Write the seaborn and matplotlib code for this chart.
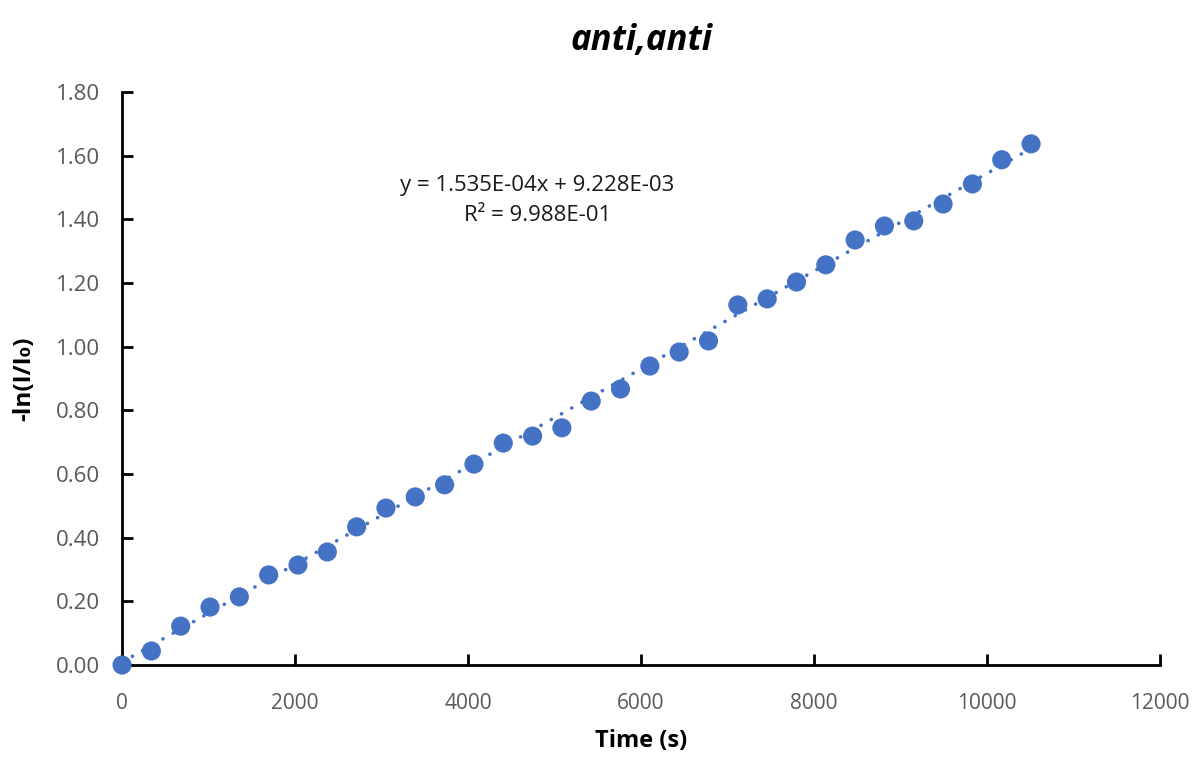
import numpy as np
import pandas as pd
import matplotlib
matplotlib.use("Agg")
import matplotlib.pyplot as plt
import seaborn as sns

# Measured decay data
time_s = [0, 339, 678, 1017, 1356, 1695, 2034, 2373, 2712, 3051, 3390,
          3729, 4068, 4407, 4746, 5085, 5424, 5763, 6102, 6441, 6780,
          7119, 7458, 7797, 8136, 8475, 8814, 9153, 9492, 9831, 10170, 10509]
neg_ln = [0.000, 0.044, 0.122, 0.182, 0.214, 0.283, 0.314, 0.355, 0.434,
          0.493, 0.528, 0.566, 0.631, 0.697, 0.719, 0.745, 0.829, 0.867,
          0.939, 0.983, 1.018, 1.131, 1.150, 1.203, 1.257, 1.335, 1.379,
          1.395, 1.448, 1.511, 1.587, 1.637]

# Linear fit parameters reported on the chart
slope = 1.535e-04
intercept = 9.228e-03
r_squared = 9.988e-01

x_ticks = [0, 2000, 4000, 6000, 8000, 10000, 12000]
y_ticks = [0.0, 0.2, 0.4, 0.6, 0.8, 1.0, 1.2, 1.4, 1.6, 1.8]

sns.set_theme(style="white")
plt.rcParams["font.family"] = ["Open Sans", "DejaVu Sans"]

blue = "#4472C4"
df = pd.DataFrame({"t": time_s, "y": neg_ln})
fit_x = np.array([time_s[0], time_s[-1]])
fit = pd.DataFrame({"t": fit_x, "y": slope * fit_x + intercept})

fig = plt.figure(figsize=(11.99, 7.6), dpi=100)
ax = fig.add_axes([0.1018, 0.125, 0.8657, 0.754])

sns.lineplot(data=fit, x="t", y="y", ax=ax, color=blue, lw=2.6,
             linestyle=(0, (0.05, 3.2)), dash_capstyle="round", zorder=2)
sns.scatterplot(data=df, x="t", y="y", ax=ax, color=blue, s=190,
                edgecolor="none", zorder=3, clip_on=False)

ax.set_xlim(0, 12000)
ax.set_ylim(0, 1.8)
ax.set_xticks(x_ticks)
ax.set_yticks(y_ticks)
ax.set_xticklabels([str(v) for v in x_ticks])
ax.set_yticklabels([f"{v:.2f}" for v in y_ticks])

for side in ("top", "right"):
    ax.spines[side].set_visible(False)
for side in ("left", "bottom"):
    ax.spines[side].set_color("black")
    ax.spines[side].set_linewidth(2)

ax.tick_params(axis="both", direction="in", length=8, width=2,
               color="black", labelcolor="#595959",
               bottom=True, left=True)
ax.tick_params(axis="x", pad=20, labelsize=15)
ax.tick_params(axis="y", pad=16, labelsize=16)

ax.set_xlabel("Time (s)", fontsize=17, fontweight="bold", color="black",
              labelpad=11)
ax.set_ylabel("-ln(I/I\u2080)", fontsize=17.5, fontweight="bold", color="black",
              labelpad=14)

ax.set_title("anti,anti", fontsize=25, fontweight="bold", fontstyle="italic",
             color="black", pad=30)

ax.text(4800, 1.505, f"y = {slope:.3E}x + {intercept:.3E}",
        ha="center", va="center", fontsize=16, color="#1a1a1a")
ax.text(4800, 1.411, f"R\u00b2 = {r_squared:.3E}", ha="center", va="center",
        fontsize=16, color="#1a1a1a")

fig.savefig("out.png", dpi=100, facecolor="white")
